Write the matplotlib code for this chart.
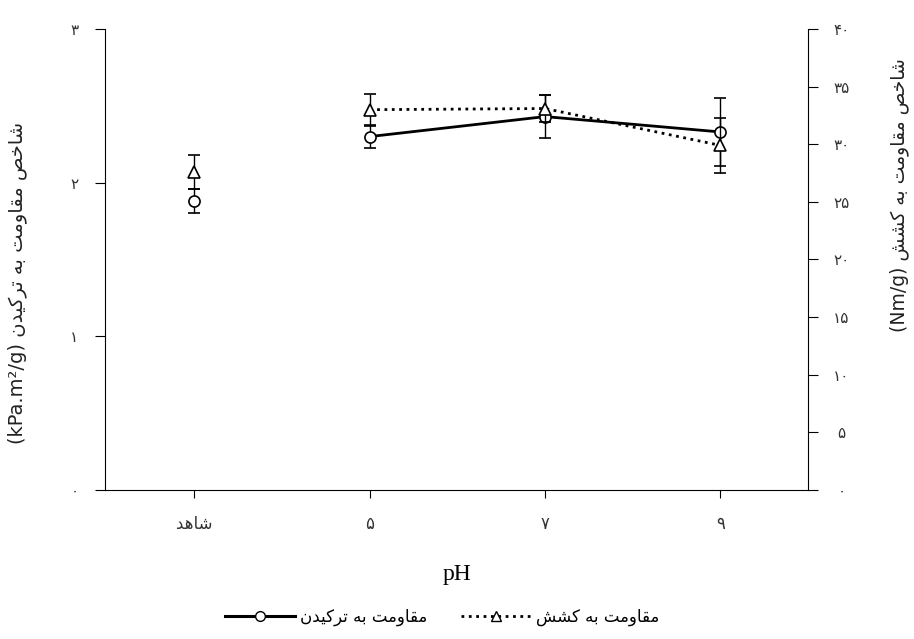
import numpy as np
import matplotlib
matplotlib.use('Agg')
import matplotlib.pyplot as plt
from matplotlib.lines import Line2D

plt.rcParams['font.family'] = ['DejaVu Sans']

# values per treatment: control, pH 5, pH 7, pH 9
groups = ['شاهد', '5', '7', '9']
burst = [1.88, 2.30, 2.43, 2.33]          # kPa.m2/g
burst_err = [0.08, 0.075, 0.14, 0.22]
tensile = [27.6, 33.0, 33.1, 29.9]        # Nm/g
tensile_err = [1.45, 1.4, 1.15, 2.4]

left_ticks = [0, 1, 2, 3]
right_ticks = [0, 5, 10, 15, 20, 25, 30, 35, 40]

# presentation forms: isolated, final, initial, medial
FORMS = {
    '\u0627': ('\uFE8D', '\uFE8E', None, None),
    '\u0628': ('\uFE8F', '\uFE90', '\uFE91', '\uFE92'),
    '\u062A': ('\uFE95', '\uFE96', '\uFE97', '\uFE98'),
    '\u062E': ('\uFEA5', '\uFEA6', '\uFEA7', '\uFEA8'),
    '\u062F': ('\uFEA9', '\uFEAA', None, None),
    '\u0631': ('\uFEAD', '\uFEAE', None, None),
    '\u0634': ('\uFEB5', '\uFEB6', '\uFEB7', '\uFEB8'),
    '\u0635': ('\uFEB9', '\uFEBA', '\uFEBB', '\uFEBC'),
    '\u0642': ('\uFED5', '\uFED6', '\uFED7', '\uFED8'),
    '\u0645': ('\uFEE1', '\uFEE2', '\uFEE3', '\uFEE4'),
    '\u0646': ('\uFEE5', '\uFEE6', '\uFEE7', '\uFEE8'),
    '\u0647': ('\uFEE9', '\uFEEA', '\uFEEB', '\uFEEC'),
    '\u0648': ('\uFEED', '\uFEEE', None, None),
    '\u06A9': ('\uFB8E', '\uFB8F', '\uFB90', '\uFB91'),
    '\u06CC': ('\uFBFC', '\uFBFD', '\uFBFE', '\uFBFF'),
}
DIGITS = str.maketrans('0123456789', '۰۱۲۳۴۵۶۷۸۹')


def fa(text):
    # join the letters and flip to visual (left-to-right) order
    out = []
    for i, ch in enumerate(text):
        if ch not in FORMS:
            out.append(ch.translate(DIGITS))
            continue
        prev = text[i - 1] if i > 0 else ''
        nxt = text[i + 1] if i + 1 < len(text) else ''
        iso, fin, ini, med = FORMS[ch]
        join_prev = prev in FORMS and FORMS[prev][2] is not None
        join_next = ini is not None and nxt in FORMS
        if join_prev and join_next:
            out.append(med)
        elif join_prev:
            out.append(fin)
        elif join_next:
            out.append(ini)
        else:
            out.append(iso)
    return ''.join(reversed(out))


x = np.arange(len(groups))

fig = plt.figure(figsize=(9.14, 6.39), dpi=100)
ax = fig.add_axes([0.1149, 0.2332, 0.7692, 0.7214])
ax2 = ax.twinx()

ax.set_xlim(-0.51, 3.5)
ax.set_ylim(0, 3)
ax2.set_ylim(0, 40)

for a in (ax, ax2):
    a.spines['top'].set_visible(False)
ax.spines['right'].set_visible(False)
ax2.spines['left'].set_visible(False)
ax2.spines['bottom'].set_visible(False)

ebkw = dict(color='black', ecolor='black', elinewidth=1, capsize=4, capthick=1,
            mfc='white', mec='black', mew=1.2, ms=8)

# control is shown alone, treatments are joined by lines
ax.errorbar(x[0], burst[0], yerr=burst_err[0], fmt='o', **ebkw)
ax.errorbar(x[1:], burst[1:], yerr=burst_err[1:], fmt='-o', lw=2, **ebkw)
ax2.errorbar(x[0], tensile[0], yerr=tensile_err[0], fmt='^', **ebkw)
ax2.errorbar(x[1:], tensile[1:], yerr=tensile_err[1:], fmt='^', ls=':', lw=2, **ebkw)

ax.set_xticks(x)
ax.set_xticklabels([fa(g) for g in groups], fontsize=12, color='#333333')
ax.tick_params(axis='x', direction='out', length=6, pad=12)

ax.set_yticks(left_ticks)
ax.set_yticklabels([str(t).translate(DIGITS) for t in left_ticks], fontsize=11,
                   color='#333333', ha='center')
ax.tick_params(axis='y', direction='out', length=7, pad=15)

ax2.set_yticks(right_ticks)
ax2.set_yticklabels([str(t).translate(DIGITS) for t in right_ticks], fontsize=11,
                    color='#333333', ha='center')
ax2.tick_params(axis='y', direction='out', length=7, pad=17)

ax.set_xlabel('pH', family='Liberation Serif', fontsize=17, labelpad=22)
ax.set_ylabel('(kPa.m²/g) ' + fa('شاخص مقاومت به ترکیدن'), fontsize=14, color='#222222')
ax.yaxis.set_label_coords(-0.111, 0.45)
ax2.set_ylabel('(Nm/g) ' + fa('شاخص مقاومت به کشش'), fontsize=13.5, color='#222222', rotation=90)
ax2.yaxis.set_label_coords(1.115, 0.64)

handles = [
    Line2D([], [], color='black', lw=2.2, marker='o', ms=7, mfc='white', mec='black'),
    Line2D([], [], color='black', lw=2, ls=':', marker='^', ms=7, mfc='white', mec='black'),
]
fig.legend(handles, [fa('مقاومت به ترکیدن'), fa('مقاومت به کشش')],
           loc='center', bbox_to_anchor=(0.484, 0.034), ncol=2, frameon=False,
           fontsize=12, handlelength=4.2, handletextpad=0.3, columnspacing=2.0,
           numpoints=1)

fig.savefig('out.png', dpi=100)
